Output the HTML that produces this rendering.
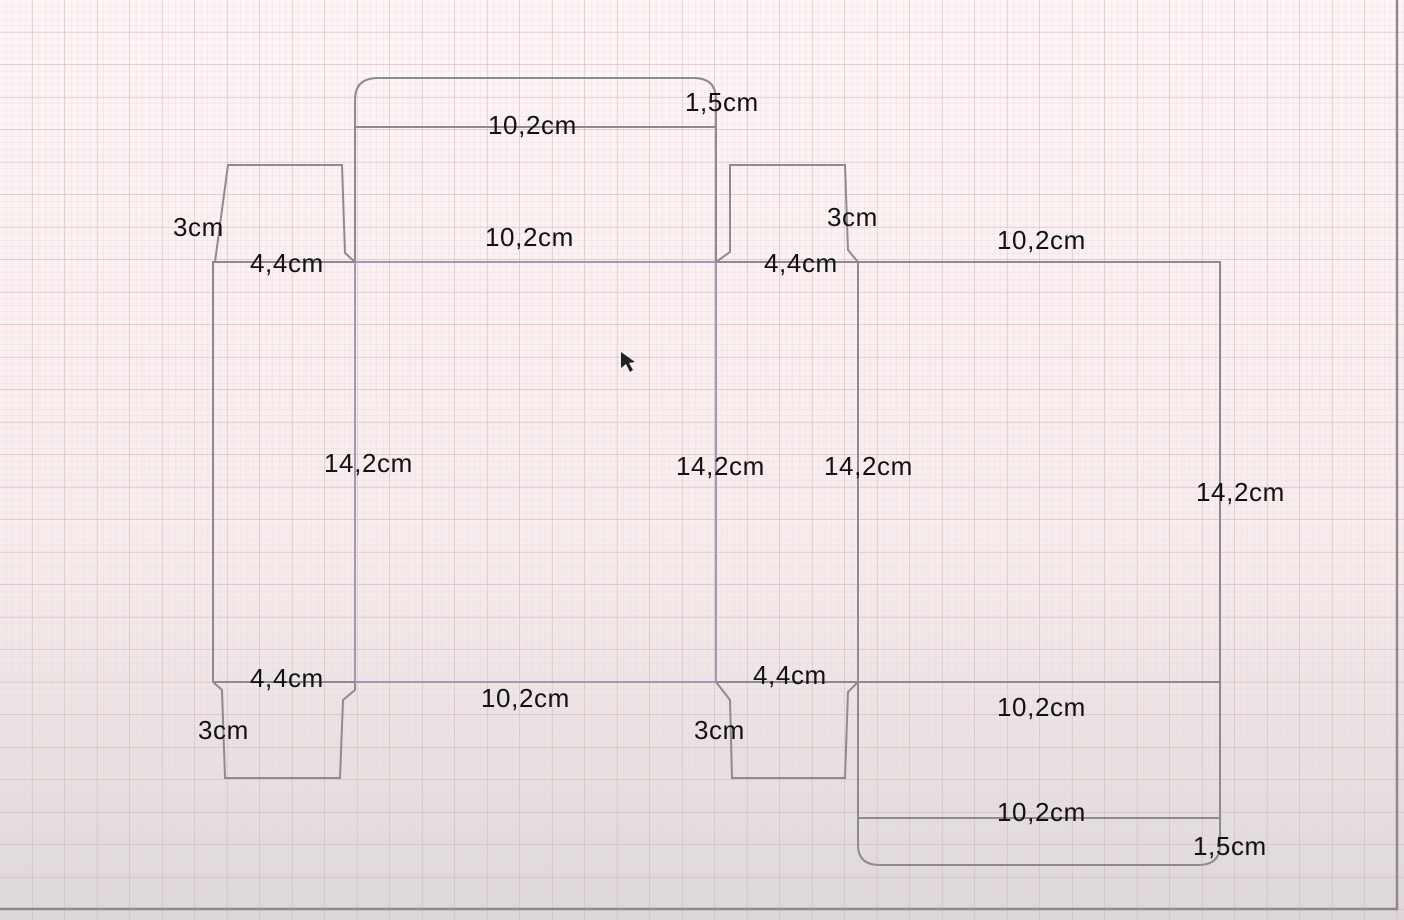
<!DOCTYPE html>
<html><head><meta charset="utf-8"><style>
html,body{margin:0;padding:0;width:1404px;height:920px;overflow:hidden;background:#f6eaec}
svg{display:block}
text{font-family:"Liberation Sans",sans-serif;font-size:26px;letter-spacing:0.6px;fill:#111}
</style></head><body>
<svg width="1404" height="920">
<defs>
<linearGradient id="bg" x1="0" y1="0" x2="0" y2="1">
<stop offset="0" stop-color="#fdf5f6"/><stop offset="0.6" stop-color="#f7eced"/><stop offset="1" stop-color="#dcd8d9"/>
</linearGradient>
<pattern id="minor" width="6.5" height="6.5" patternUnits="userSpaceOnUse">
<path d="M6.5 0V6.5M0 6.5H6.5" stroke="#ecd3d8" stroke-width="1" fill="none"/>
</pattern>
<pattern id="major" width="32.5" height="32.5" patternUnits="userSpaceOnUse">
<path d="M32.5 0V32.5M0 32.5H32.5" stroke="#dcb4bc" stroke-width="1.2" fill="none"/>
</pattern>
</defs>
<rect width="1404" height="920" fill="url(#bg)"/>
<rect width="1404" height="920" fill="url(#minor)" opacity="0.6"/>
<rect width="1404" height="920" fill="url(#major)"/>
<path d="M1397 0V909H0" stroke="#8e8a8c" stroke-width="2.5" fill="none"/>
<g stroke="#8f8a92" stroke-width="2" fill="none">
<path d="M355 262V100Q355 78 378 78H694Q716 78 716 100V262"/>
<path d="M355 127H716"/>
<path d="M355 262H716V682H355Z" stroke="#9b9ab8"/>
<path d="M355 262L345 253L342 165H228L215 262H213V682"/>
<path d="M213 262H355"/>
<path d="M213 682L222 690L225 778H340L343 700L355 690V682"/>
<path d="M213 682H355"/>
<path d="M716 262L730 252V165H845L848 250L858 262"/>
<path d="M716 262H1220V682H858"/>
<path d="M858 262V845Q858 865 880 865H1198Q1220 865 1220 845V682"/>
<path d="M858 818H1220"/>
<path d="M716 682L730 700L732 778H845L848 692L858 682H716"/>
</g>
<g>
<text x="488" y="134">10,2cm</text>
<text x="685" y="111">1,5cm</text>
<text x="173" y="236">3cm</text>
<text x="485" y="246">10,2cm</text>
<text x="827" y="226">3cm</text>
<text x="997" y="249">10,2cm</text>
<text x="250" y="272">4,4cm</text>
<text x="764" y="272">4,4cm</text>
<text x="324" y="472">14,2cm</text>
<text x="676" y="475">14,2cm</text>
<text x="824" y="475">14,2cm</text>
<text x="1196" y="501">14,2cm</text>
<text x="250" y="687">4,4cm</text>
<text x="753" y="684">4,4cm</text>
<text x="481" y="707">10,2cm</text>
<text x="997" y="716">10,2cm</text>
<text x="198" y="739">3cm</text>
<text x="694" y="739">3cm</text>
<text x="997" y="821">10,2cm</text>
<text x="1193" y="855">1,5cm</text>
</g>
<path d="M621 352L621 368L626 364L630 372L633 370L629 363L635 362Z" fill="#222"/>
</svg>
</body></html>
